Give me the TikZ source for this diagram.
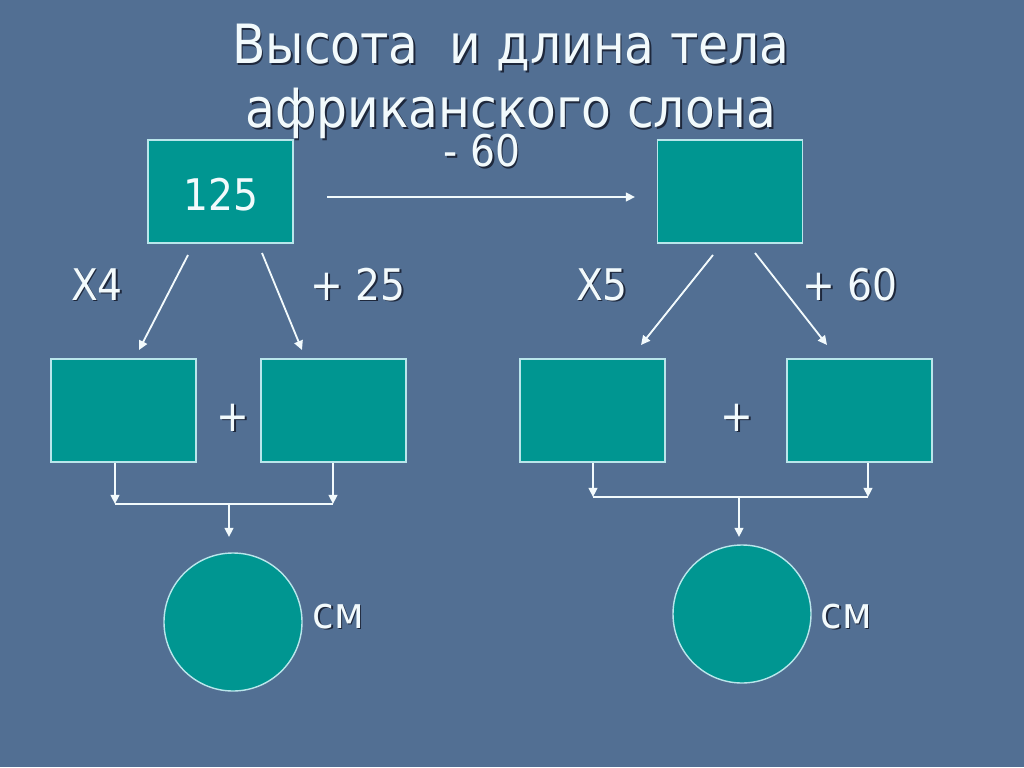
\documentclass[tikz,border=0pt]{standalone}
\usepackage{fontspec}
\setmainfont{DejaVu Sans Condensed}
\usetikzlibrary{arrows.meta}
\definecolor{slide}{RGB}{82,111,147}
\definecolor{tealbox}{RGB}{0,150,145}
\definecolor{rim}{RGB}{185,230,235}
\definecolor{ink}{RGB}{242,250,252}
\definecolor{shade}{RGB}{30,40,60}
\newcommand{\shd}[1]{\makebox[0pt][l]{\kern1.2pt\raisebox{-1.2pt}{\color{shade}#1}}#1}
\tikzset{
  box/.style={draw=rim, fill=tealbox, line width=1pt, minimum width=36.25mm, minimum height=25.75mm, inner sep=0pt},
  disc/.style={draw=rim, fill=tealbox, line width=1pt, circle, minimum size=34.5mm, inner sep=0pt},
  lbl/.style={text=ink, anchor=base, inner sep=0pt, font=\fontsize{31}{36}\selectfont},
  arr/.style={draw=ink, line width=1.3pt, -{Triangle[length=2.3mm,width=2.2mm]}},
  ln/.style={draw=ink, line width=1.3pt},
}
\begin{document}
\begin{tikzpicture}[x=0.25mm,y=-0.25mm]
    \fill[slide] (0,0) rectangle (1024,767);
    \useasboundingbox (0,0) rectangle (1024,767);

    % title
    \node[lbl,font=\fontsize{38.5}{44}\selectfont] (title1) at (511,64) {\shd{Высота\ \ и длина тела}};
    \node[lbl,font=\fontsize{38.5}{44}\selectfont] (title2) at (511,128) {\shd{африканского слона}};

    % top row
    \node[box] (start) at (220.5,191.5) {};
    \node[lbl] (startval) at (221,210) {125};
    \node[box] (rest) at (730,191.5) {};
    \coordinate (go) at (327,197);
    \coordinate (come) at (635,197);
    \draw[arr] (go) -- (come);
    \node[lbl] (minus) at (482,167) {\shd{- 60}};

    % middle row
    \node[box] (hA) at (123.5,410.5) {};
    \node[box] (hB) at (333.5,410.5) {};
    \node[box] (lA) at (592.5,410.5) {};
    \node[box] (lB) at (859.5,410.5) {};
    \node[lbl] (plusL) at (233,431) {\shd{+}};
    \node[lbl] (plusR) at (737,431) {\shd{+}};

    \node[lbl] (timesL) at (97,300) {\shd{X4}};
    \node[lbl] (addL) at (358,300) {\shd{+ 25}};
    \node[lbl] (timesR) at (602,300) {\shd{X5}};
    \node[lbl] (addR) at (850,300) {\shd{+ 60}};

    % slanted arrows
    \coordinate (s1) at (188,255);
    \coordinate (e1) at (139,350);
    \coordinate (s2) at (262,253);
    \coordinate (e2) at (302,350);
    \coordinate (s3) at (713,255);
    \coordinate (e3) at (641,345);
    \coordinate (s4) at (755,253);
    \coordinate (e4) at (827,345);
    \draw[arr] (s1) -- (e1);
    \draw[arr] (s2) -- (e2);
    \draw[arr] (s3) -- (e3);
    \draw[arr] (s4) -- (e4);

    % bottom
    \node[disc] (sumL) at (233,622) {};
    \node[disc] (sumR) at (742,614) {};
    \node[lbl] (unitL) at (338,628) {\shd{см}};
    \node[lbl] (unitR) at (846,628) {\shd{см}};

    \coordinate (jL1) at (115,504);
    \coordinate (jL2) at (333,504);
    \coordinate (jL) at (229,504);
    \draw[arr] (hA.south -| jL1) -- (jL1);
    \draw[arr] (hB.south -| jL2) -- (jL2);
    \draw[ln] (jL1) -- (jL2);
    \draw[arr] (jL) -- (229,537);

    \coordinate (jR1) at (593,497);
    \coordinate (jR2) at (868,497);
    \coordinate (jR) at (739,497);
    \draw[arr] (lA.south -| jR1) -- (jR1);
    \draw[arr] (lB.south -| jR2) -- (jR2);
    \draw[ln] (jR1) -- (jR2);
    \draw[arr] (jR) -- (739,537);
\end{tikzpicture}
\end{document}
